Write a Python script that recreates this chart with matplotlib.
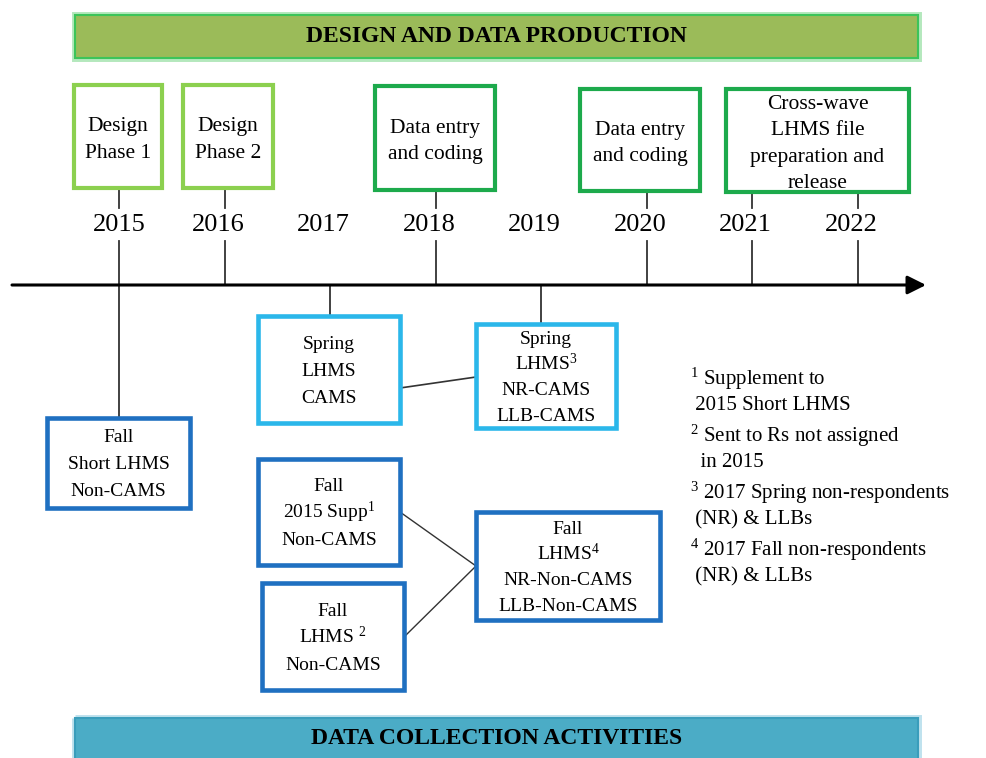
import numpy as np
import matplotlib.pyplot as plt
from matplotlib.patches import Rectangle

plt.rcParams['font.family'] = ['Liberation Serif', 'DejaVu Serif']
plt.rcParams['mathtext.fontset'] = 'custom'
plt.rcParams['mathtext.rm'] = 'Liberation Serif'
plt.rcParams['mathtext.it'] = 'Liberation Serif:italic'
plt.rcParams['mathtext.bf'] = 'Liberation Serif:bold'

# data
years = [2015, 2016, 2017, 2018, 2019, 2020, 2021, 2022]
ticks_up = [2015, 2016, 2018, 2020, 2021, 2022]
ticks_down = [2017, 2019]
top_title = "DESIGN AND DATA PRODUCTION"
bottom_title = "DATA COLLECTION ACTIVITIES"

design_labels = ["Design\nPhase 1", "Design\nPhase 2", "Data entry\nand coding",
                 "Data entry\nand coding", "Cross-wave\nLHMS file\npreparation and\nrelease"]
design_kind = ["design", "design", "production", "production", "production"]

collect_labels = ["Fall\nShort LHMS\nNon-CAMS",
                  "Spring\nLHMS\nCAMS",
                  "Spring\nLHMS$^3$\nNR-CAMS\nLLB-CAMS",
                  "Fall\n2015 Supp$^1$\nNon-CAMS",
                  "Fall\nLHMS $^2$\nNon-CAMS",
                  "Fall\nLHMS$^4$\nNR-Non-CAMS\nLLB-Non-CAMS"]
collect_kind = ["fall", "spring", "spring", "fall", "fall", "fall"]

footnotes = ["$^1$ Supplement to\n 2015 Short LHMS",
             "$^2$ Sent to Rs not assigned\n  in 2015",
             "$^3$ 2017 Spring non-respondents\n (NR) & LLBs",
             "$^4$ 2017 Fall non-respondents\n (NR) & LLBs"]

# layout (pixel units of the picture, converted to the year scale)
PX_PER_YEAR = 105.5
X2015 = 119


def X(px):
    return 2015 + (px - X2015) / PX_PER_YEAR


design_boxes = [(74, 162, 85, 188), (183, 273, 85, 188), (375, 495, 86, 190),
                (580, 700, 89, 191), (726, 909, 89, 192)]
collect_boxes = [(47, 190, 418, 508), (258, 400, 316, 423), (476, 616, 324, 428),
                 (258, 400, 459, 565), (262, 404, 583, 690), (476, 660, 512, 620)]
edge_col = {"design": "#8cd04f", "production": "#1daa4c",
            "spring": "#2bb7ea", "fall": "#1f70c1"}

fig = plt.figure(figsize=(9.87, 7.58), dpi=100)
ax = fig.add_axes([0, 0, 1, 1])
ax.set_xlim(X(0), X(987))
ax.set_ylim(758, 0)
ax.axis('off')


def box(b, ec, lw=3.0, fc='white', z=3):
    x0, x1, y0, y1 = b
    ax.add_patch(Rectangle((X(x0), y0), X(x1) - X(x0), y1 - y0, fc=fc, ec=ec, lw=lw, zorder=z))


def lines_in_box(b, lab, fs, step, dy=0):
    # one text per line so that superscript lines do not change the spacing
    rows = lab.split("\n")
    cy = (b[2] + b[3]) / 2 + dy
    base = 0.33 * fs * 100 / 72
    for k, row in enumerate(rows):
        y = cy + (k - (len(rows) - 1) / 2) * step + base
        ax.text(X((b[0] + b[1]) / 2), y, row, ha='center', va='baseline', fontsize=fs, zorder=4)


# banners
for b, fc, ec, glow, txt, ty in [((75, 918, 15, 58), "#9bbb59", "#3cc45a", "#b4e8bd", top_title, 37),
                                 ((75, 918, 718, 770), "#4bacc6", "#3a9dbb", "#bfe2ee", bottom_title, 738)]:
    box(b, glow, lw=5, fc='none', z=1)
    box(b, ec, lw=1.5, fc=fc, z=2)
    ax.text(X((b[0] + b[1]) / 2), ty, txt,
            ha='center', va='center', fontsize=17, fontweight='bold', zorder=4)

# timeline axis
AXIS_Y = 285
ax.annotate('', xy=(X(926), AXIS_Y), xytext=(X(12), AXIS_Y),
            arrowprops=dict(arrowstyle='-|>', lw=2.2, color='black', mutation_scale=28,
                            shrinkA=0, shrinkB=0), zorder=5)

# year labels and ticks
for yr in years:
    ax.text(yr - 0.06 * (yr > 2015), 225, str(yr), ha='center', va='center', fontsize=19, zorder=4)
for yr in ticks_up:
    ax.plot([yr, yr], [241, AXIS_Y], color='#333333', lw=1.3, zorder=2)
ax.plot([2015, 2015], [188, 208], color='#333333', lw=1.3)
ax.plot([2016, 2016], [188, 208], color='#333333', lw=1.3)
ax.plot([2018, 2018], [190, 208], color='#333333', lw=1.3)
ax.plot([2020, 2020], [191, 208], color='#333333', lw=1.3)
ax.plot([2021, 2021], [192, 208], color='#333333', lw=1.3)
ax.plot([2022, 2022], [192, 208], color='#333333', lw=1.3)
# drops below the axis
ax.plot([2015, 2015], [AXIS_Y, 418], color='#333333', lw=1.3, zorder=2)
ax.plot([ticks_down[0], ticks_down[0]], [AXIS_Y, 316], color='#333333', lw=1.3, zorder=2)
ax.plot([ticks_down[1], ticks_down[1]], [AXIS_Y, 324], color='#333333', lw=1.3, zorder=2)

# design / production boxes
for lab, kind, b in zip(design_labels, design_kind, design_boxes):
    box(b, edge_col[kind])
    lines_in_box(b, lab, 15.5, 26.5, dy=1)

# collection boxes
for lab, kind, b in zip(collect_labels, collect_kind, collect_boxes):
    box(b, edge_col[kind], lw=3.3)
    lines_in_box(b, lab, 14, 27 if lab.count("\n") == 2 else 25.5)

# connectors between collection boxes
ax.plot([X(400), X(476)], [388, 377], color='#333333', lw=1.2, zorder=2)
ax.plot([X(400), X(476), X(404)], [512, 566, 637], color='#333333', lw=1.0, zorder=2)

# footnotes
for i, fn in enumerate(footnotes):
    ax.text(X(690), 366 + i * 57, fn, ha='left', va='top', fontsize=15, linespacing=1.3)

fig.savefig('out.png', dpi=100)
